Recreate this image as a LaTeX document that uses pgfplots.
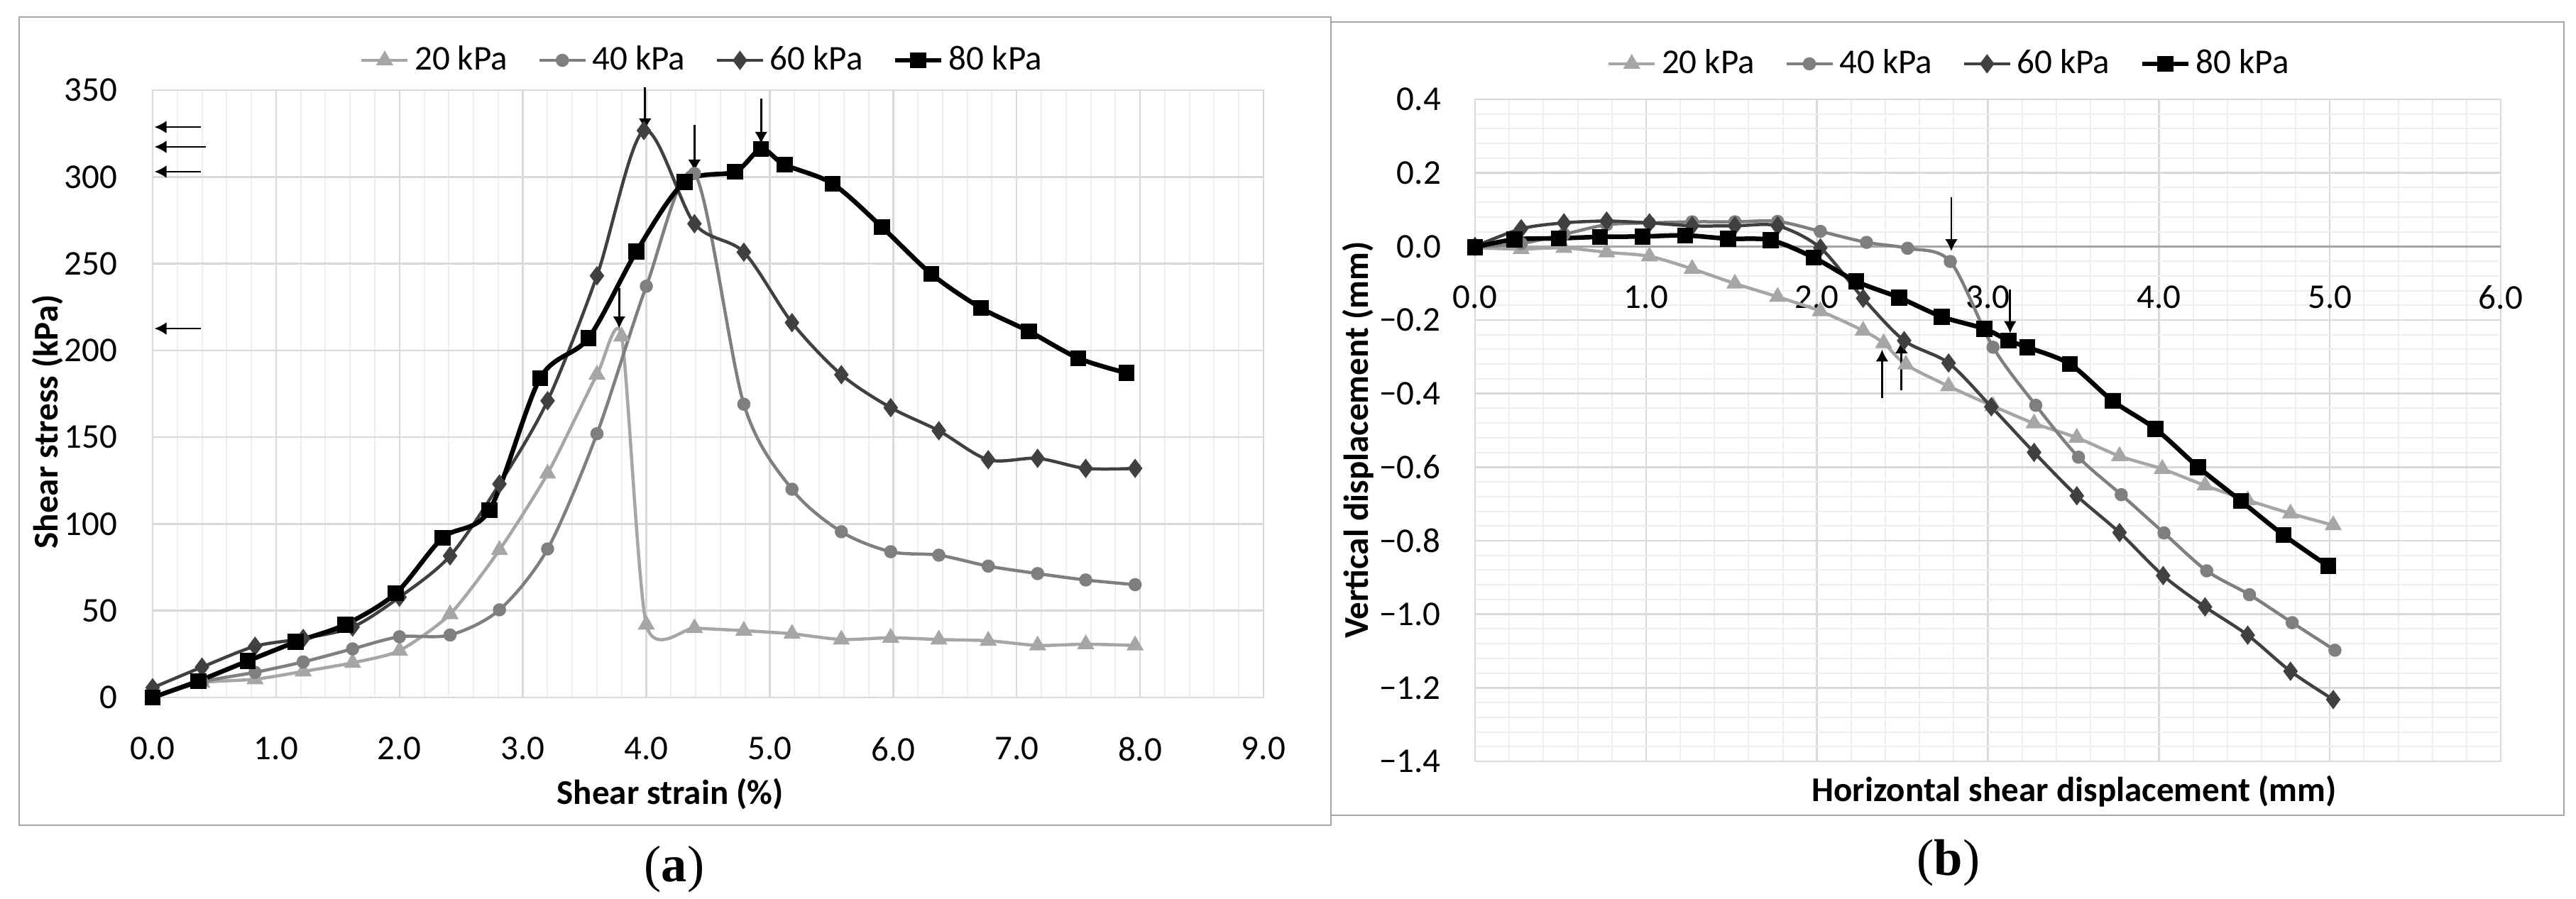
\documentclass[border=0pt]{standalone}
\usepackage{fontspec}
\setmainfont{Carlito}
\newfontfamily\capfont{Liberation Serif}
\usepackage{pgfplots}
\pgfplotsset{compat=1.18}
\usetikzlibrary{arrows.meta}
\definecolor{c20}{HTML}{A6A6A6}
\definecolor{c40}{HTML}{7F7F7F}
\definecolor{c60}{HTML}{404040}
\definecolor{gmaj}{HTML}{D9D9D9}
\definecolor{gmin}{HTML}{EEEEEE}
\definecolor{framec}{HTML}{A6A6A6}
\newcommand{\fs}{\fontsize{9.8}{11}\selectfont}
\tikzset{arr/.style={-{Latex[length=3.4pt,width=3.6pt]}, line width=0.55pt, black}}
\pgfplotsset{
  myaxis/.style={
    scale only axis, clip=false,
    tick style={draw=none},
    major grid style={gmaj, line width=0.5pt},
    minor grid style={gmin, line width=0.4pt},
    tick label style={font=\fs},
    label style={font=\fs\bfseries},
    /pgf/number format/assume math mode=true,
    legend columns=-1,
    legend style={draw=none, fill=none, font=\fs,
      /tikz/every even column/.append style={column sep=7pt},
      nodes={inner xsep=1.5pt}},
    legend image code/.code={\draw[mark repeat=2,mark phase=2] plot coordinates {(0pt,0pt) (6.5pt,0pt) (13pt,0pt)};},
  },
  s20/.style={c20, line width=0.9pt, smooth, mark=triangle*, mark size=1.9pt, mark options={solid, fill=c20, draw=c20}},
  s40/.style={c40, line width=0.9pt, smooth, mark=*, mark size=1.4pt, mark options={solid, fill=c40, draw=c40}},
  s60/.style={c60, line width=0.9pt, smooth, mark=diamond*, mark size=2pt, mark options={solid, fill=c60, draw=c60}},
  s80/.style={black, line width=1.3pt, smooth, mark=square*, mark size=1.6pt, mark options={solid, fill=black, draw=black}},
}
\begin{document}
\begin{tikzpicture}
\path[use as bounding box] (0,0) rectangle (725.8pt,253.4pt);
\draw[framec, line width=0.5pt] (5.4pt,20.8pt) rectangle (375pt,248.6pt);
\draw[framec, line width=0.5pt] (375pt,23.6pt) rectangle (722.4pt,247.2pt);

% ---------------- (a) ----------------
\begin{axis}[myaxis,
  at={(43pt,56.8pt)}, anchor=south west, width=313pt, height=171.2pt,
  xmin=0, xmax=9, ymin=0, ymax=350,
  xtick={0,1,2,3,4,5,6,7,8,9}, ytick={0,50,100,150,200,250,300,350},
  minor x tick num=4, grid=both,
  xticklabel={\pgfmathprintnumber[fixed,fixed zerofill,precision=1]{\tick}},
  x tick label style={yshift=-7.7pt},
  y tick label style={xshift=-6.5pt},
  axis line style={draw=gmaj, line width=0.5pt},
  xlabel={Shear strain (\%)},
  ylabel={Shear stress (kPa)},
  xlabel style={at={(axis description cs:0.466,-0.159)}, anchor=center},
  ylabel style={at={(axis description cs:-0.0946,0.454)}, anchor=center},
  legend style={at={(0.496,1.049)}, anchor=center},
]
\addplot[s20, tension=0.4] coordinates {(0,0) (0.40,8.5) (0.83,10.5) (1.22,15) (1.62,20) (2.00,27) (2.41,48) (2.81,85) (3.20,129) (3.60,186) (3.80,208) (4.00,42) (4.39,40) (4.79,38.5) (5.18,36.7) (5.58,33.4) (5.98,34.4) (6.37,33.4) (6.77,32.7) (7.17,30) (7.56,30.7) (7.96,30)};
\addlegendentry{20 kPa}
\addplot[s40] coordinates {(0,0) (0.40,9) (0.83,14.5) (1.22,20.5) (1.62,28) (2.00,35) (2.41,36) (2.81,50.5) (3.20,85.6) (3.60,152) (4.00,237) (4.39,302) (4.79,169) (5.18,120) (5.58,95.5) (5.98,84) (6.37,82) (6.77,75.7) (7.17,71.4) (7.56,67.7) (7.96,65)};
\addlegendentry{40 kPa}
\addplot[s60] coordinates {(0,5.6) (0.40,17.5) (0.83,29.5) (1.22,34) (1.62,40.6) (2.00,57.8) (2.41,81.6) (2.81,123) (3.20,171) (3.60,243) (3.98,326.7) (4.39,273) (4.79,256.6) (5.18,216) (5.58,186) (5.98,167) (6.37,153.7) (6.77,137) (7.17,137.8) (7.56,132) (7.96,132)};
\addlegendentry{60 kPa}
\addplot[s80] coordinates {(0,0) (0.37,9.5) (0.77,21) (1.16,32) (1.56,42) (1.97,60) (2.35,92) (2.73,108) (3.14,184) (3.53,207) (3.92,257) (4.31,297) (4.72,303) (4.93,316) (5.12,307) (5.51,296) (5.91,271) (6.31,244) (6.71,224.5) (7.10,211) (7.50,195.5) (7.89,187)};
\addlegendentry{80 kPa}
\draw[arr] (axis cs:0.39,328.7) -- (axis cs:0.015,328.7);
\draw[arr] (axis cs:0.43,317.3) -- (axis cs:0.015,317.3);
\draw[arr] (axis cs:0.39,303) -- (axis cs:0.015,303);
\draw[arr] (axis cs:0.39,212.6) -- (axis cs:0.015,212.6);
\draw[arr] (axis cs:3.99,351.6) -- (axis cs:3.99,326.7);
\draw[arr] (axis cs:4.39,330) -- (axis cs:4.39,303);
\draw[arr] (axis cs:4.93,345) -- (axis cs:4.93,319);
\draw[arr] (axis cs:3.78,236) -- (axis cs:3.78,212.6);
\end{axis}

% ---------------- (b) ----------------
\begin{axis}[myaxis,
  at={(415.6pt,38.8pt)}, anchor=south west, width=289pt, height=186.6pt,
  xmin=0, xmax=6, ymin=-1.4, ymax=0.4,
  axis x line*=middle, axis y line*=left,
  hide obscured x ticks=false, hide obscured y ticks=false,
  xtick={0,1,2,3,4,5,6},
  ytick={-1.4,-1.2,-1,-0.8,-0.6,-0.4,-0.2,0,0.2,0.4},
  yticklabels={−1.4,−1.2,−1.0,−0.8,−0.6,−0.4,−0.2,0.0,0.2,0.4},
  minor tick num=4, grid=both,
  xticklabel={\pgfmathprintnumber[fixed,fixed zerofill,precision=1]{\tick}},
  x tick label style={anchor=north, yshift=-7.5pt},
  y tick label style={anchor=east, xshift=-6.1pt},
  x axis line style={draw=c20, line width=0.6pt},
  y axis line style={draw=gmaj, line width=0.5pt},
  xlabel={Horizontal shear displacement (mm)},
  ylabel={Vertical displacement (mm)},
  xlabel style={at={(axis description cs:0.584,-0.045)}, anchor=center},
  ylabel style={at={(axis description cs:-0.1142,0.4855)}, anchor=center},
  legend style={at={(0.4637,1.0536)}, anchor=center},
]
\addplot[s20] coordinates {(0,-0.004) (0.27,-0.007) (0.52,-0.004) (0.77,-0.016) (1.02,-0.027) (1.27,-0.061) (1.52,-0.101) (1.77,-0.137) (2.02,-0.176) (2.27,-0.229) (2.39,-0.263) (2.52,-0.321) (2.77,-0.380) (3.03,-0.434) (3.27,-0.481) (3.52,-0.520) (3.77,-0.570) (4.02,-0.605) (4.27,-0.650) (4.52,-0.690) (4.77,-0.726) (5.02,-0.758)};
\addlegendentry{20 kPa}
\addplot[s40] coordinates {(0,-0.002) (0.27,0.008) (0.52,0.033) (0.77,0.059) (1.02,0.064) (1.27,0.067) (1.52,0.067) (1.77,0.068) (2.02,0.041) (2.29,0.011) (2.53,-0.005) (2.78,-0.041) (3.03,-0.274) (3.28,-0.432) (3.53,-0.573) (3.78,-0.675) (4.03,-0.779) (4.28,-0.882) (4.53,-0.947) (4.78,-1.023) (5.03,-1.098)};
\addlegendentry{40 kPa}
\addplot[s60] coordinates {(0,0) (0.27,0.048) (0.52,0.064) (0.77,0.069) (1.02,0.064) (1.27,0.056) (1.52,0.056) (1.77,0.056) (2.02,-0.004) (2.27,-0.141) (2.51,-0.256) (2.77,-0.317) (3.02,-0.436) (3.27,-0.560) (3.52,-0.678) (3.77,-0.778) (4.025,-0.895) (4.27,-0.980) (4.52,-1.057) (4.77,-1.155) (5.02,-1.232)};
\addlegendentry{60 kPa}
\addplot[s80] coordinates {(0,-0.002) (0.23,0.019) (0.49,0.022) (0.73,0.026) (0.98,0.027) (1.23,0.030) (1.48,0.021) (1.73,0.017) (1.98,-0.030) (2.23,-0.095) (2.48,-0.139) (2.73,-0.191) (2.98,-0.224) (3.12,-0.256) (3.23,-0.274) (3.48,-0.320) (3.73,-0.420) (3.98,-0.496) (4.23,-0.600) (4.48,-0.692) (4.73,-0.785) (4.99,-0.869)};
\addlegendentry{80 kPa}
\draw[arr] (axis cs:2.786,0.134) -- (axis cs:2.786,-0.013);
\draw[arr] (axis cs:3.13,-0.117) -- (axis cs:3.13,-0.236);
\draw[arr] (axis cs:2.381,-0.413) -- (axis cs:2.381,-0.280);
\draw[arr] (axis cs:2.494,-0.391) -- (axis cs:2.494,-0.258);
\end{axis}

\node[font=\capfont\fontsize{14.5}{16}\selectfont] at (190pt,8.4pt) {(\textbf{a})};
\node[font=\capfont\fontsize{14.5}{16}\selectfont] at (549pt,10.2pt) {(\textbf{b})};
\end{tikzpicture}
\end{document}
